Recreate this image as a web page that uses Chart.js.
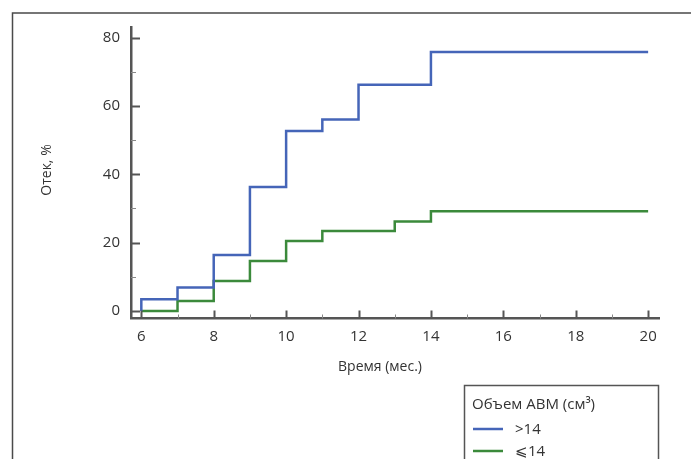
<!DOCTYPE html>
<html>
<head>
<meta charset="utf-8">
<script src="https://cdn.jsdelivr.net/npm/chart.js@4"></script>
<style>
  body { margin: 0; background: #fff; }
  canvas { display: block; }
</style>
</head>
<body>
<canvas id="myChart" width="691" height="459"></canvas>
<script>
// Données
const moisGrand = [6, 6, 7, 8, 9, 10, 11, 12, 14, 20];
const oedemeGrand = [0, 3.4, 6.9, 16.4, 36.3, 52.7, 56.0, 66.2, 75.8, 75.8];
const moisPetit = [6, 7, 8, 9, 10, 11, 13, 14, 20];
const oedemePetit = [0, 2.9, 8.8, 14.6, 20.5, 23.4, 26.2, 29.2, 29.2];
const ticksX = [6, 7, 8, 9, 10, 11, 12, 13, 14, 15, 16, 17, 18, 19, 20];
const ticksY = [0, 10, 20, 30, 40, 50, 60, 70, 80];
const labelsSerie = ['>14', '\u2A7D14'];
const titreLegende = 'Объем АВМ (см³)';
const titreX = 'Время (мес.)';
const titreY = 'Отек, %';

const police = '"Open Sans", "Noto Sans", sans-serif';
const gris = '#333';

function points(xs, ys) {
  return xs.map((x, i) => ({ x: x, y: ys[i] }));
}

// Cadre, petites graduations vers l'intérieur, titres d'axes et légende
const decor = {
  id: 'decor',
  beforeDraw(chart) {
    const ctx = chart.ctx;
    ctx.save();
    ctx.strokeStyle = '#4a4a4a';
    ctx.lineWidth = 1.5;
    ctx.beginPath();
    ctx.moveTo(12.5, 459);
    ctx.lineTo(12.5, 13);
    ctx.lineTo(691, 13);
    ctx.stroke();
    ctx.restore();
  },
  afterDraw(chart) {
    const ctx = chart.ctx;
    const sx = chart.scales.x, sy = chart.scales.y;
    ctx.save();
    ctx.lineCap = 'butt';
    ticksX.forEach(v => {
      const px = Math.round(sx.getPixelForValue(v)) + 0.5;
      const major = v % 2 === 0;
      ctx.strokeStyle = major ? '#555' : '#888';
      ctx.lineWidth = major ? 2 : 1;
      ctx.beginPath();
      ctx.moveTo(px, sx.top);
      ctx.lineTo(px, sx.top - (major ? 8 : 4));
      ctx.stroke();
    });
    ticksY.forEach(v => {
      const py = Math.round(sy.getPixelForValue(v)) + 0.5;
      const major = v % 20 === 0;
      ctx.strokeStyle = major ? '#555' : '#888';
      ctx.lineWidth = major ? 2 : 1;
      ctx.beginPath();
      ctx.moveTo(sy.right, py);
      ctx.lineTo(sy.right + (major ? 9 : 5), py);
      ctx.stroke();
    });

    // titres d'axes
    ctx.fillStyle = gris;
    ctx.font = '14px ' + police;
    ctx.textAlign = 'center';
    ctx.textBaseline = 'middle';
    ctx.fillText(titreX, 380, 367);
    ctx.save();
    ctx.translate(47, 170);
    ctx.rotate(-Math.PI / 2);
    ctx.fillText(titreY, 0, 0);
    ctx.restore();

    // légende
    ctx.strokeStyle = '#555';
    ctx.lineWidth = 1.5;
    ctx.strokeRect(464.5, 385.5, 194, 90);
    ctx.font = '15px ' + police;
    ctx.textAlign = 'left';
    ctx.fillStyle = gris;
    ctx.fillText(titreLegende, 472, 405);
    chart.data.datasets.forEach((ds, i) => {
      const y = 429 + i * 22;
      ctx.strokeStyle = ds.borderColor;
      ctx.lineWidth = 2.5;
      ctx.beginPath();
      ctx.moveTo(473, y);
      ctx.lineTo(503, y);
      ctx.stroke();
      ctx.fillStyle = gris;
      ctx.fillText(ds.label, 515, y + 1);
    });
    ctx.restore();
  }
};

const data = {
  datasets: [{
    label: labelsSerie[0],
    data: points(moisGrand, oedemeGrand),
    borderColor: '#4565b8',
    borderWidth: 2.5,
    stepped: 'before',
    pointRadius: 0,
    fill: false
  }, {
    label: labelsSerie[1],
    data: points(moisPetit, oedemePetit),
    borderColor: '#3b8a3b',
    borderWidth: 2.5,
    stepped: 'before',
    pointRadius: 0,
    fill: false
  }]
};

const config = {
  type: 'line',
  data: data,
  options: {
    responsive: false,
    animation: false,
    layout: { padding: { top: 27, right: 32, left: 0, bottom: 0 } },
    plugins: {
      legend: { display: false },
      tooltip: { enabled: false }
    },
    scales: {
      x: {
        type: 'linear',
        min: 5.715,
        max: 20.3,
        afterBuildTicks: s => { s.ticks = ticksX.map(v => ({ value: v })); },
        afterFit: s => { s.height = 140.5; },
        grid: { display: false, drawTicks: false },
        border: { display: true, color: '#555', width: 2.5 },
        ticks: {
          padding: 9,
          color: gris,
          font: { family: police, size: 15 },
          maxRotation: 0,
          autoSkip: false,
          callback: v => (v % 2 === 0 ? String(v) : '')
        }
      },
      y: {
        type: 'linear',
        min: -2.2,
        max: 83.1,
        afterBuildTicks: s => { s.ticks = ticksY.map(v => ({ value: v })); },
        afterFit: s => { s.width = 131; },
        grid: { display: false, drawTicks: false },
        border: { display: true, color: '#555', width: 2.5 },
        ticks: {
          padding: 11,
          color: gris,
          font: { family: police, size: 15 },
          autoSkip: false,
          callback: v => (v % 20 === 0 ? String(v) : '')
        }
      }
    }
  },
  plugins: [decor]
};

var myChart = new Chart(document.getElementById('myChart'), config);
</script>
</body>
</html>
